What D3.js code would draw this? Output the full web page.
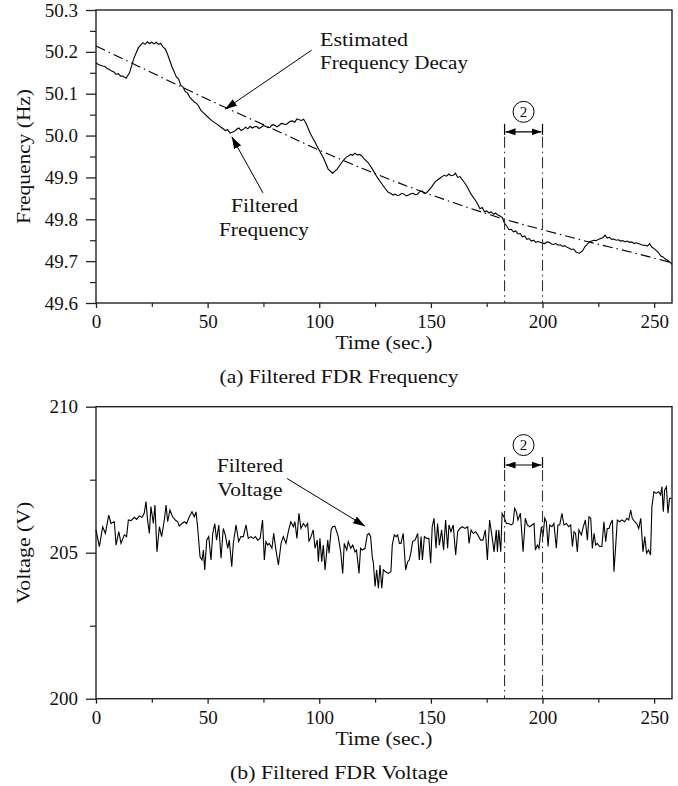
<!DOCTYPE html>
<html><head><meta charset="utf-8">
<script src="https://cdn.jsdelivr.net/npm/d3@7"></script>
<style>
html,body{margin:0;padding:0;background:#fff;}
svg text{font-family:"Liberation Serif","DejaVu Serif","Noto Serif",serif !important;fill:#111;}
</style></head><body>
<svg id="chart" width="678" height="786"></svg>
<script>
// ---------- data ----------
const timeTicks = [0, 50, 100, 150, 200, 250];
const timeMinorTicks = [25, 75, 125, 175, 225];
const freqTicks = [49.6, 49.7, 49.8, 49.9, 50.0, 50.1, 50.2, 50.3];
const freqMinorTicks = [49.65, 49.75, 49.85, 49.95, 50.05, 50.15, 50.25];
const voltTicks = [200, 205, 210];
const voltMinorTicks = [202.5, 207.5];
const windowTimes = [183, 200];

const freqT = [0,1,2,3,4,5,6,7,8,9,10,11,12,13.5,15,17,19,20,21,22,23,24,25,26,27,28,29,30,31,32,34,36,37,38,39,40,41,42,43,44,45,46,47,48,50,51,52,54,56,58,59,60,61,62,63,64,65,66,67,68,69,70,71,72,73,74,75,76,77,78,79,80,81,82,83,84,85,86,87,88,89,90,91,92,93,94,96,98,100,102,104,106,108,110,111,112,113,114,115,116,117,118,119,120,122,124,126,128,130,131,132,133,134,135,136,137,138,139,140,141,142,143,144,145,146,147,148,150,152,154,155,156,157,158,159,160,161,162,163,164,166,168,170,171,172,173,174,175,176,177,178,179,180,181,182,183,184,185,186,187,188,189,190,191,192,193,194,195,196,197,198,199,200,201,202,203,204,205,206,207,208,209,210,211,212,213,214,215,216.5,218,219,220,221,222,223,224,225,226,227,228,229,230,231,232,233,234,235,236,237,238,239,240,241,242,243,244,245,246,247,248,249,250,251,252,253,254,255,256,257,258];
const freqV = [50.174,50.170,50.168,50.166,50.165,50.160,50.158,50.154,50.152,50.146,50.148,50.142,50.142,50.137,50.150,50.185,50.210,50.216,50.222,50.218,50.224,50.220,50.223,50.219,50.223,50.218,50.220,50.212,50.207,50.195,50.165,50.140,50.135,50.120,50.116,50.105,50.102,50.092,50.086,50.080,50.077,50.070,50.060,50.055,50.045,50.040,50.035,50.028,50.020,50.012,50.014,50.006,50.008,50.010,50.015,50.018,50.012,50.015,50.020,50.016,50.022,50.018,50.021,50.022,50.017,50.020,50.024,50.022,50.019,50.020,50.026,50.025,50.021,50.024,50.029,50.028,50.026,50.030,50.034,50.035,50.032,50.040,50.038,50.036,50.039,50.030,50.005,49.985,49.965,49.945,49.920,49.910,49.920,49.935,49.942,49.948,49.951,49.955,49.953,49.958,49.954,49.955,49.952,49.945,49.935,49.918,49.900,49.885,49.870,49.864,49.862,49.858,49.860,49.857,49.858,49.862,49.860,49.856,49.858,49.861,49.862,49.859,49.860,49.866,49.868,49.862,49.863,49.875,49.890,49.898,49.902,49.905,49.903,49.908,49.904,49.905,49.910,49.900,49.902,49.895,49.880,49.860,49.845,49.836,49.825,49.828,49.818,49.820,49.815,49.818,49.812,49.815,49.810,49.808,49.804,49.790,49.784,49.775,49.776,49.770,49.772,49.765,49.766,49.758,49.760,49.752,49.754,49.748,49.750,49.745,49.747,49.745,49.743,49.742,49.746,49.745,49.741,49.740,49.742,49.738,49.739,49.735,49.737,49.733,49.731,49.728,49.729,49.722,49.719,49.725,49.735,49.740,49.746,49.748,49.750,49.749,49.752,49.754,49.756,49.762,49.755,49.757,49.752,49.753,49.750,49.751,49.748,49.749,49.746,49.748,49.745,49.746,49.742,49.744,49.742,49.740,49.738,49.738,49.736,49.742,49.733,49.730,49.725,49.720,49.712,49.710,49.705,49.702,49.698,49.692,49.688,49.685,49.682];

const decayT = [0,20,40,60,80,100,120,140,160,180,200,220,240,258];
const decayV = [50.214,50.163,50.112,50.062,50.014,49.965,49.920,49.878,49.840,49.805,49.775,49.747,49.721,49.696];

const voltT = [0,1.5,3,4.2,5.7,6.7,8.2,9,10.2,11.2,12.7,13.7,14.5,15.7,17.2,18.2,19.4,20.6,21.6,22.4,23.1,23.9,24.6,25.7,26.4,27.3,28.4,29.4,30.6,31.4,32.1,33.1,34.3,35.5,36.6,37.3,38.5,39.6,40.6,41.8,43,44,44.8,45.5,46.6,47.5,48.1,48.7,49.6,50.5,51.5,52.3,53.2,54,55,56,57,57.9,59,59.7,60.8,61.5,62.7,63.9,64.9,66,67.2,68.2,69.4,70.5,71.4,72.4,73.5,74.6,75.4,76.1,76.9,77.6,78.8,79.6,80.6,81.7,82.9,83.9,85.1,86.3,87.3,88.4,89.1,90,90.9,91.8,92.9,93.9,94.8,95.4,96.3,97.3,98.1,99.1,99.6,100.3,101.1,101.8,102.6,103.8,104.4,105.3,106,107,107.8,108.5,109.6,110.5,111.2,112.3,113,114.1,115,116,116.7,117.8,118.5,119.3,120.5,121.5,122.3,123,123.8,124.2,125,125.7,126.5,127.2,128,128.7,129.7,130.9,132.1,132.7,133.6,134.4,135.1,135.9,136.6,137.6,138.7,139.6,140.3,141.1,141.8,142.9,144.1,144.8,145.6,146.2,147.1,148.1,149.1,149.9,150.6,151.4,152.3,153,153.8,154.8,155.7,156.6,157.5,158.1,159,160,161.1,162,163,164.1,165.3,166.5,167.1,168,169,170.1,171,172.3,173.3,174.4,175.3,176.3,177.4,178.3,179.3,179.8,180.4,181.3,181.9,182.7,183.8,184.8,186,186.8,187.5,188.3,189,190.1,191.3,192.3,193.2,194.2,195.3,196.2,196.8,197.7,198.4,199.5,200.2,201,201.7,202.5,203.2,204.2,205.1,206.2,206.9,207.7,208.7,209.6,210.7,211.7,212.6,213.4,214.1,214.8,215.6,216.3,217.4,218.3,219.2,220.1,220.8,221.6,222.3,223.1,223.8,224.5,225.6,226.6,227.5,228.3,229,229.8,230.5,231.3,232,232.8,233.5,234.5,235.6,236.8,237.8,238.6,239.5,240.2,241.3,242.2,243.1,244,245,245.8,246.6,247.5,248.4,249,249.9,250.9,252,252.9,253.5,254.1,254.7,255.5,256.2,256.9,257.7];
const voltV = [205.78,205.21,205.89,205.66,206.29,206.0,206.06,205.26,205.72,205.32,205.61,205.55,206.12,206.1,206.21,206.14,206.26,206.21,206.35,206.75,206.12,205.66,206.58,206.0,206.63,205.03,205.89,205.55,206.12,206.63,206.06,206.46,206.23,206.12,206.06,205.91,206.0,206.06,206.0,206.23,206.4,206.23,206.4,205.89,204.86,204.75,205.09,204.41,205.43,205.55,204.75,205.66,206.0,205.43,205.95,204.81,205.83,205.61,205.15,205.43,204.52,205.32,205.95,205.38,205.55,205.55,205.95,205.49,205.55,205.49,205.55,205.43,205.49,206.12,204.75,205.38,205.26,205.32,205.15,205.66,205.09,204.58,205.32,205.55,205.32,205.78,206.06,205.89,206.06,205.49,206.35,205.83,206.0,205.89,206.0,205.38,205.55,205.78,205.15,205.43,204.69,205.49,204.69,205.26,204.41,205.43,204.98,205.78,205.89,205.91,205.72,205.55,205.03,204.29,205.32,205.09,205.38,205.15,205.26,205.03,205.09,204.29,205.15,205.09,205.15,205.61,205.66,205.55,204.81,204.69,203.84,204.41,203.78,204.58,203.78,204.41,204.35,204.29,204.35,205.26,205.61,205.55,205.61,205.32,205.32,205.66,204.41,204.69,204.75,205.03,205.38,205.43,205.66,204.75,205.55,204.75,205.55,205.49,205.49,204.64,205.89,206.18,205.15,206.0,205.26,205.78,205.09,206.12,205.15,205.95,205.72,205.95,204.92,205.72,205.83,205.89,205.83,205.89,205.32,205.78,205.66,205.72,205.61,205.43,205.43,205.78,204.75,206.12,205.55,205.03,205.78,205.03,205.78,205.03,206.35,206.23,206.0,206.0,205.95,206.0,206.52,206.4,206.12,206.35,205.03,206.18,205.95,205.89,205.95,206.0,205.09,205.26,205.15,205.89,205.55,206.18,206.06,205.21,205.95,205.89,206.0,205.15,205.95,205.95,206.35,205.95,206.0,205.89,205.95,205.21,205.72,205.66,205.03,205.78,205.61,205.89,206.12,205.43,206.23,206.18,205.15,205.66,205.26,205.32,205.21,205.21,206.06,205.38,205.83,205.83,206.0,206.12,204.35,205.26,206.12,206.06,206.12,206.06,206.18,206.12,206.46,206.18,206.06,206.0,205.83,206.18,205.03,205.55,204.98,205.09,204.92,206.58,207.09,207.03,207.09,206.98,207.26,206.4,207.15,207.26,206.35,206.86,206.86];

// ---------- layout ----------
const FONT_FAMILY = "'Liberation Serif', 'DejaVu Serif', 'Noto Serif', serif";
const svg = d3.select("#chart");
const FONT = 19;
const plotLeft = 96, plotRight = 672;
const x = d3.scaleLinear().domain([0, 258]).range([plotLeft, plotRight]);

function panel(cfg) {
  const g = svg.append("g");
  const y = d3.scaleLinear().domain(cfg.domain).range([cfg.bottom, cfg.top]);
  g.append("g").attr("transform", `translate(0,${cfg.bottom})`)
    .call(d3.axisBottom(x).tickValues(timeMinorTicks).tickSize(4).tickFormat(""))
    .call(s => { s.select(".domain").remove(); s.selectAll("line").attr("stroke", "#222").attr("stroke-width", 1.2); });
  g.append("g").attr("transform", `translate(${plotLeft},0)`)
    .call(d3.axisLeft(y).tickValues(cfg.minor).tickSize(6).tickFormat(""))
    .call(s => { s.select(".domain").remove(); s.selectAll("line").attr("stroke", "#222").attr("stroke-width", 1.2); });
  const xa = g.append("g").attr("transform", `translate(0,${cfg.bottom})`)
    .call(d3.axisBottom(x).tickValues(timeTicks).tickSize(5).tickSizeOuter(0).tickPadding(7).tickFormat(d3.format("d")));
  const ya = g.append("g").attr("transform", `translate(${plotLeft},0)`)
    .call(d3.axisLeft(y).tickValues(cfg.ticks).tickSize(10).tickSizeOuter(0).tickPadding(8).tickFormat(cfg.fmt));
  [xa, ya].forEach(a => {
    a.attr("font-family", FONT_FAMILY).attr("font-size", FONT);
    a.select(".domain").remove();
    a.selectAll("line").attr("stroke", "#222").attr("stroke-width", 1.3);
    a.selectAll("text").attr("font-size", FONT).attr("font-family", FONT_FAMILY).attr("fill", "#111");
  });
  g.append("rect").attr("x", plotLeft).attr("y", cfg.top).attr("width", plotRight - plotLeft).attr("height", cfg.bottom - cfg.top)
    .attr("fill", "none").attr("stroke", "#222").attr("stroke-width", 1.4);
  g.append("text").attr("x", (plotLeft + plotRight) / 2).attr("y", cfg.bottom + 46).attr("text-anchor", "middle")
    .attr("font-family", FONT_FAMILY).attr("font-size", FONT).attr("textLength", 97).attr("lengthAdjust", "spacingAndGlyphs").text("Time (sec.)");
  g.append("text").attr("transform", `translate(30,${(cfg.top + cfg.bottom) / 2}) rotate(-90)`).attr("text-anchor", "middle")
    .attr("font-family", FONT_FAMILY).attr("font-size", FONT).attr("textLength", cfg.ylabLen).attr("lengthAdjust", "spacingAndGlyphs").text(cfg.ylab);
  g.append("text").attr("x", 339).attr("y", cfg.bottom + 80).attr("text-anchor", "middle")
    .attr("font-family", FONT_FAMILY).attr("font-size", FONT).attr("textLength", cfg.capLen).attr("lengthAdjust", "spacingAndGlyphs").text(cfg.caption);
  return { g, y };
}

const defs = svg.append("defs");
defs.append("marker").attr("id", "arr").attr("viewBox", "0 0 12 8").attr("refX", 12).attr("refY", 4)
  .attr("markerWidth", 12).attr("markerHeight", 8).attr("markerUnits", "userSpaceOnUse").attr("orient", "auto")
  .append("path").attr("d", "M0,0 L12,4 L0,8 Z").attr("fill", "#000");
defs.append("marker").attr("id", "arrS").attr("viewBox", "0 0 10 7").attr("refX", 10).attr("refY", 3.5)
  .attr("markerWidth", 10).attr("markerHeight", 7).attr("markerUnits", "userSpaceOnUse").attr("orient", "auto-start-reverse")
  .append("path").attr("d", "M0,0 L10,3.5 L0,7 Z").attr("fill", "#000");

function windowMark(g, yTop, yBottom) {
  const x1 = x(windowTimes[0]), x2 = x(windowTimes[1]);
  [x1, x2].forEach(xx => {
    g.append("line").attr("x1", xx).attr("x2", xx).attr("y1", yTop).attr("y2", yBottom)
      .attr("stroke", "#333").attr("stroke-width", 1.1).attr("stroke-dasharray", "11,4,1.5,4");
    g.append("line").attr("x1", xx).attr("x2", xx).attr("y1", yTop - 13).attr("y2", yTop - 2)
      .attr("stroke", "#000").attr("stroke-width", 1.2);
  });
  g.append("line").attr("x1", x1 + 1).attr("x2", x2 - 1).attr("y1", yTop - 5).attr("y2", yTop - 5)
    .attr("stroke", "#000").attr("stroke-width", 1.1)
    .attr("marker-start", "url(#arrS)").attr("marker-end", "url(#arrS)");
  const cx = (x1 + x2) / 2, cy = yTop - 25;
  g.append("circle").attr("cx", cx).attr("cy", cy).attr("r", 10.5).attr("fill", "none").attr("stroke", "#000").attr("stroke-width", 1);
  g.append("text").attr("x", cx).attr("y", cy + 5).attr("text-anchor", "middle")
    .attr("font-family", FONT_FAMILY).attr("font-size", 15).text("2");
}

function label(g, txt, xx, yy, len, anchor) {
  g.append("text").attr("x", xx).attr("y", yy).attr("text-anchor", anchor || "start")
    .attr("font-family", FONT_FAMILY).attr("font-size", FONT)
    .attr("textLength", len).attr("lengthAdjust", "spacingAndGlyphs").text(txt);
}

// ---------- top panel: frequency ----------
const freqPanel = panel({ top: 10, bottom: 303, domain: [49.6, 50.3], ticks: freqTicks, minor: freqMinorTicks,
  fmt: d3.format(".1f"), ylab: "Frequency (Hz)", ylabLen: 135, caption: "(a) Filtered FDR Frequency", capLen: 239 });
const yF = freqPanel.y;
const freqData = freqT.map((t, i) => [t, freqV[i]]);
const decayData = decayT.map((t, i) => [t, decayV[i]]);
freqPanel.g.append("path").datum(decayData).attr("fill", "none").attr("stroke", "#000").attr("stroke-width", 1.1)
  .attr("stroke-dasharray", "10,4,1.5,4").attr("d", d3.line().x(d => x(d[0])).y(d => yF(d[1])).curve(d3.curveMonotoneX));
freqPanel.g.append("path").datum(freqData).attr("fill", "none").attr("stroke", "#000").attr("stroke-width", 1.1)
  .attr("d", d3.line().x(d => x(d[0])).y(d => yF(d[1])));
windowMark(freqPanel.g, yF(49.997), yF(49.6));
label(freqPanel.g, "Estimated", 320, 46, 88);
label(freqPanel.g, "Frequency Decay", 320, 69, 148);
freqPanel.g.append("line").attr("x1", x(96.6)).attr("y1", yF(50.204)).attr("x2", x(57.8)).attr("y2", yF(50.063))
  .attr("stroke", "#000").attr("stroke-width", 1).attr("marker-end", "url(#arr)");
label(freqPanel.g, "Filtered", 264.5, 212, 67, "middle");
label(freqPanel.g, "Frequency", 264, 236, 90, "middle");
freqPanel.g.append("line").attr("x1", x(74.8)).attr("y1", yF(49.863)).attr("x2", x(60.8)).attr("y2", yF(49.997))
  .attr("stroke", "#000").attr("stroke-width", 1).attr("marker-end", "url(#arr)");

// ---------- bottom panel: voltage ----------
const voltPanel = panel({ top: 406.7, bottom: 698.7, domain: [200, 210], ticks: voltTicks, minor: voltMinorTicks,
  fmt: d3.format("d"), ylab: "Voltage (V)", ylabLen: 102, caption: "(b) Filtered FDR Voltage", capLen: 218 });
const yV = voltPanel.y;
const voltData = voltT.map((t, i) => [t, voltV[i]]);
voltPanel.g.append("path").datum(voltData).attr("fill", "none").attr("stroke", "#000").attr("stroke-width", 1.1)
  .attr("d", d3.line().x(d => x(d[0])).y(d => yV(d[1])));
windowMark(voltPanel.g, yV(207.83), yV(200));
label(voltPanel.g, "Filtered", 250, 472, 66, "middle");
label(voltPanel.g, "Voltage", 250, 496, 65, "middle");
voltPanel.g.append("line").attr("x1", x(85.6)).attr("y1", yV(207.54)).attr("x2", x(120.5)).attr("y2", yV(205.91))
  .attr("stroke", "#000").attr("stroke-width", 1).attr("marker-end", "url(#arr)");
</script>
</body></html>
